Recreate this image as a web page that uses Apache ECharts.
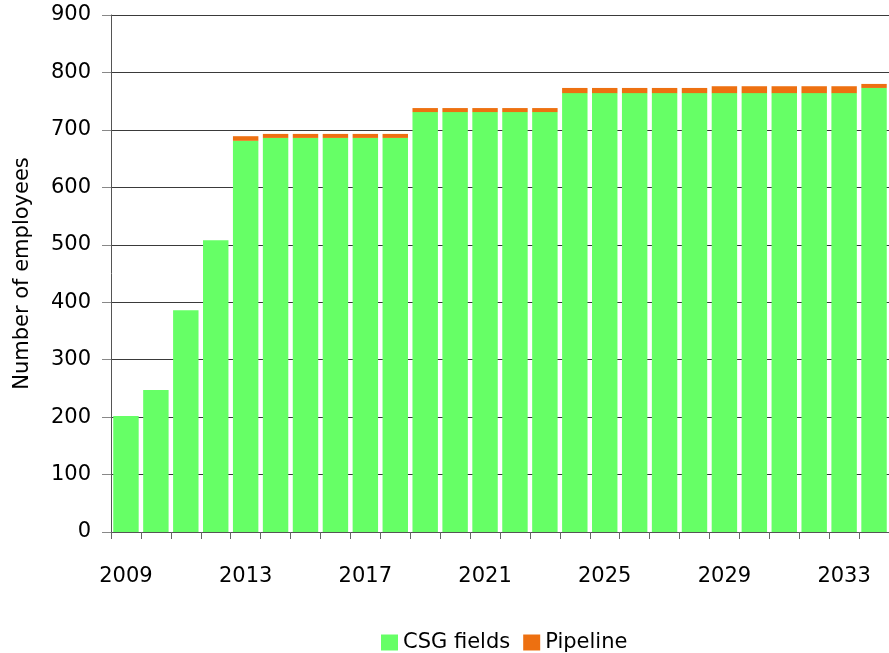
<!DOCTYPE html>
<html>
<head>
<meta charset="utf-8">
<script src="https://cdn.jsdelivr.net/npm/echarts@6/dist/echarts.min.js"></script>
<style>
html,body{margin:0;padding:0;background:#fff;}
#chart{width:889px;height:653px;}
</style>
</head>
<body>
<div id="chart"></div>
<script>
const years = ['2009','2010','2011','2012','2013','2014','2015','2016','2017','2018','2019','2020','2021','2022','2023','2024','2025','2026','2027','2028','2029','2030','2031','2032','2033','2034'];
const csgFields = [202, 247, 386, 508, 681, 686, 686, 686, 686, 686, 731, 731, 731, 731, 731, 764, 764, 764, 764, 764, 764, 764, 764, 764, 764, 773];
const pipeline = [0, 0, 0, 0, 8, 7, 7, 7, 7, 7, 7, 7, 7, 7, 7, 9, 9, 9, 9, 9, 12, 12, 12, 12, 12, 7];
const seriesNames = ['CSG fields', 'Pipeline'];
const yTicks = {min: 0, max: 900, interval: 100};

const font = 'DejaVu Sans';
const chart = echarts.init(document.getElementById('chart'), null, {renderer: 'canvas'});
chart.setOption({
  animation: false,
  backgroundColor: '#ffffff',
  grid: {left: 111, right: -2, top: 15, bottom: 121, containLabel: false},
  legend: {
    left: 376, top: 627,
    itemWidth: 17, itemHeight: 16, itemGap: 13,
    icon: 'rect',
    textStyle: {fontFamily: font, fontSize: 21, color: '#000'},
    data: seriesNames
  },
  xAxis: {
    type: 'category',
    data: years,
    axisLine: {lineStyle: {color: '#555', width: 1}},
    axisTick: {show: true, length: 7, interval: 0, lineStyle: {color: '#666'}},
    axisLabel: {interval: 3, margin: 34, fontFamily: font, fontSize: 21, color: '#000'}
  },
  yAxis: {
    type: 'value',
    min: yTicks.min, max: yTicks.max, interval: yTicks.interval,
    name: 'Number of employees',
    nameLocation: 'middle',
    nameGap: 78,
    nameTextStyle: {fontFamily: font, fontSize: 21, color: '#000'},
    axisLine: {show: true, lineStyle: {color: '#555', width: 1}},
    axisTick: {show: true, length: 9, lineStyle: {color: '#888'}},
    axisLabel: {margin: 20, fontFamily: font, fontSize: 21, color: '#000'},
    splitLine: {show: true, lineStyle: {color: '#3a3a3a', width: 1}}
  },
  series: [
    {
      name: seriesNames[0], type: 'bar', stack: 'total',
      data: csgFields,
      barCategoryGap: '15%',
      itemStyle: {color: '#66FF66'}
    },
    {
      name: seriesNames[1], type: 'bar', stack: 'total',
      data: pipeline,
      barCategoryGap: '15%',
      itemStyle: {color: '#ED7011'}
    }
  ]
});
</script>
</body>
</html>
